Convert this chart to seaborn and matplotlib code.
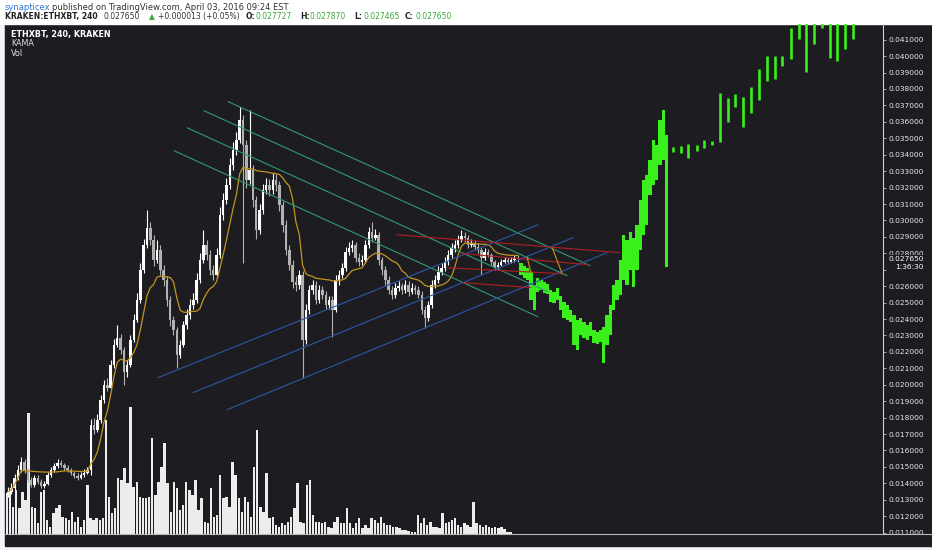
import numpy as np
import pandas as pd
import matplotlib
matplotlib.use('Agg')
import matplotlib.pyplot as plt
from matplotlib.patches import Rectangle
from matplotlib.lines import Line2D
from matplotlib.transforms import blended_transform_factory
import seaborn as sns

# ETHXBT 240 candles (price in BTC)
first_open = 0.01330
closes = [
    0.01349, 0.01373, 0.01434, 0.01483, 0.01532, 0.01483, 0.01422, 0.01392, 0.01434, 0.01410,
    0.01386, 0.01398, 0.01453, 0.01483, 0.01507, 0.01526, 0.01514, 0.01495, 0.01483, 0.01465,
    0.01447, 0.01434, 0.01453, 0.01465, 0.01483, 0.01757, 0.01727, 0.01787, 0.01909, 0.02000,
    0.01982, 0.02122, 0.02244, 0.02286, 0.02213, 0.02080, 0.02122, 0.02274, 0.02396, 0.02518,
    0.02700, 0.02852, 0.02956, 0.02883, 0.02761, 0.02822, 0.02700, 0.02639, 0.02518, 0.02396,
    0.02335, 0.02183, 0.02244, 0.02365, 0.02426, 0.02487, 0.02518, 0.02639, 0.02761, 0.02852,
    0.02791, 0.02700, 0.02670, 0.02791, 0.03035, 0.03126, 0.03218, 0.03339, 0.03431, 0.03491,
    0.03613, 0.03461, 0.03248, 0.03309, 0.03126, 0.02944, 0.03065, 0.03187, 0.03218, 0.03187,
    0.03248, 0.03218, 0.03096, 0.02974, 0.02822, 0.02731, 0.02627, 0.02609, 0.02670, 0.02274,
    0.02457, 0.02578, 0.02609, 0.02518, 0.02578, 0.02548, 0.02487, 0.02518, 0.02457, 0.02639,
    0.02670, 0.02712, 0.02810, 0.02834, 0.02852, 0.02773, 0.02749, 0.02761, 0.02852, 0.02932,
    0.02895, 0.02913, 0.02761, 0.02700, 0.02639, 0.02578, 0.02548, 0.02591, 0.02603, 0.02578,
    0.02609, 0.02566, 0.02591, 0.02578, 0.02548, 0.02457, 0.02408, 0.02487, 0.02609, 0.02639,
    0.02688, 0.02712, 0.02749, 0.02791, 0.02834, 0.02852, 0.02883, 0.02907, 0.02895, 0.02852,
    0.02864, 0.02840, 0.02822, 0.02773, 0.02810, 0.02791, 0.02749, 0.02718, 0.02731, 0.02749,
    0.02761, 0.02749, 0.02761, 0.02773, 0.02765]
highs = [
    0.01380, 0.01400, 0.01455, 0.01510, 0.01562, 0.01545, 0.01495, 0.01440, 0.01450, 0.01450,
    0.01425, 0.01415, 0.01470, 0.01500, 0.01525, 0.01545, 0.01540, 0.01525, 0.01510, 0.01495,
    0.01475, 0.01460, 0.01470, 0.01485, 0.01500, 0.01790, 0.01800, 0.01820, 0.01940, 0.02030,
    0.02040, 0.02150, 0.02280, 0.02365, 0.02310, 0.02230, 0.02150, 0.02300, 0.02430, 0.02560,
    0.02740, 0.02890, 0.03065, 0.02990, 0.02910, 0.02880, 0.02850, 0.02730, 0.02660, 0.02540,
    0.02420, 0.02350, 0.02270, 0.02390, 0.02460, 0.02520, 0.02560, 0.02680, 0.02800, 0.02944,
    0.02880, 0.02820, 0.02730, 0.02830, 0.03080, 0.03170, 0.03260, 0.03380, 0.03480, 0.03540,
    0.03692, 0.03640, 0.03490, 0.03674, 0.03340, 0.03150, 0.03100, 0.03220, 0.03260, 0.03250,
    0.03290, 0.03280, 0.03240, 0.03120, 0.03000, 0.02850, 0.02760, 0.02660, 0.02700, 0.02690,
    0.02490, 0.02610, 0.02640, 0.02630, 0.02610, 0.02600, 0.02570, 0.02540, 0.02540, 0.02670,
    0.02700, 0.02740, 0.02840, 0.02870, 0.02880, 0.02870, 0.02800, 0.02790, 0.02880, 0.02960,
    0.02992, 0.02950, 0.02930, 0.02780, 0.02720, 0.02660, 0.02600, 0.02620, 0.02630, 0.02620,
    0.02640, 0.02630, 0.02620, 0.02610, 0.02600, 0.02570, 0.02480, 0.02510, 0.02640, 0.02670,
    0.02720, 0.02740, 0.02780, 0.02820, 0.02860, 0.02880, 0.02910, 0.02944, 0.02930, 0.02910,
    0.02890, 0.02880, 0.02860, 0.02840, 0.02830, 0.02825, 0.02800, 0.02760, 0.02750, 0.02765,
    0.02780, 0.02775, 0.02780, 0.02787, 0.02787]
lows = [
    0.01315, 0.01335, 0.01360, 0.01420, 0.01470, 0.01465, 0.01405, 0.01375, 0.01380, 0.01395,
    0.01370, 0.01372, 0.01390, 0.01440, 0.01470, 0.01495, 0.01500, 0.01480, 0.01470, 0.01450,
    0.01430, 0.01420, 0.01425, 0.01440, 0.01455, 0.01453, 0.01700, 0.01710, 0.01770, 0.01890,
    0.01960, 0.01970, 0.02100, 0.02230, 0.02190, 0.02000, 0.02050, 0.02110, 0.02260, 0.02380,
    0.02500, 0.02680, 0.02830, 0.02850, 0.02720, 0.02740, 0.02670, 0.02600, 0.02480, 0.02360,
    0.02300, 0.02104, 0.02160, 0.02230, 0.02340, 0.02400, 0.02460, 0.02500, 0.02620, 0.02740,
    0.02760, 0.02670, 0.02640, 0.02650, 0.02770, 0.03000, 0.03100, 0.03190, 0.03310, 0.03400,
    0.03470, 0.02743, 0.03200, 0.03220, 0.03080, 0.02890, 0.02920, 0.03040, 0.03160, 0.03150,
    0.03160, 0.03180, 0.03060, 0.02930, 0.02790, 0.02700, 0.02590, 0.02570, 0.02580, 0.02043,
    0.02250, 0.02430, 0.02550, 0.02490, 0.02500, 0.02520, 0.02460, 0.02460, 0.02292, 0.02440,
    0.02610, 0.02650, 0.02690, 0.02790, 0.02810, 0.02750, 0.02720, 0.02730, 0.02740, 0.02830,
    0.02870, 0.02880, 0.02730, 0.02670, 0.02610, 0.02550, 0.02520, 0.02530, 0.02570, 0.02550,
    0.02560, 0.02540, 0.02550, 0.02555, 0.02525, 0.02430, 0.02347, 0.02390, 0.02470, 0.02590,
    0.02620, 0.02670, 0.02690, 0.02730, 0.02770, 0.02810, 0.02830, 0.02870, 0.02870, 0.02830,
    0.02840, 0.02820, 0.02800, 0.02670, 0.02760, 0.02775, 0.02730, 0.02700, 0.02705, 0.02720,
    0.02740, 0.02735, 0.02740, 0.02750, 0.02747]

# volume pane (relative units)
volume = [
    41, 44, 27, 44, 26, 42, 34, 121, 27, 26,
    11, 42, 44, 14, 7, 21, 26, 29, 17, 16,
    14, 22, 12, 17, 7, 14, 49, 16, 14, 16,
    14, 16, 114, 37, 21, 26, 56, 54, 66, 51,
    127, 47, 52, 37, 36, 36, 37, 96, 39, 52,
    67, 91, 51, 22, 52, 46, 24, 29, 52, 44,
    39, 54, 24, 36, 12, 11, 46, 17, 19, 59,
    36, 37, 27, 72, 59, 36, 22, 37, 32, 17,
    67, 104, 27, 22, 61, 16, 17, 9, 7, 11,
    9, 12, 17, 26, 51, 12, 11, 49, 54, 19,
    12, 12, 11, 12, 7, 6, 12, 17, 11, 11,
    26, 11, 6, 11, 16, 6, 9, 6, 16, 14,
    11, 17, 11, 9, 9, 7, 7, 6, 4, 4,
    3, 2, 2, 19, 11, 16, 9, 12, 7, 7,
    6, 21, 11, 12, 14, 16, 9, 7, 11, 9,
    7, 32, 11, 9, 7, 9, 7, 6, 7, 6,
    7, 5, 2, 2]

# projected bars pattern (green), dense part right after the last candle
proj_hi = [0.02743, 0.02725, 0.02712, 0.02688, 0.02609, 0.02651, 0.02639, 0.02627, 0.02615, 0.02578,
           0.02566, 0.02591, 0.02542, 0.02505, 0.02487, 0.02457, 0.02426, 0.02396, 0.02408, 0.02384,
           0.02365, 0.02384, 0.02335, 0.02323, 0.02335, 0.02353, 0.02426, 0.02487, 0.02609, 0.02639,
           0.02761, 0.02913, 0.02883, 0.02931, 0.02895, 0.02974, 0.03126, 0.03248, 0.03278, 0.03370,
           0.03491, 0.03461, 0.03613, 0.03674, 0.03522]
proj_lo = [0.02670, 0.02651, 0.02639, 0.02518, 0.02457, 0.02566, 0.02578, 0.02560, 0.02554, 0.02505,
           0.02499, 0.02518, 0.02457, 0.02408, 0.02396, 0.02384, 0.02244, 0.02213, 0.02305, 0.02286,
           0.02274, 0.02299, 0.02256, 0.02250, 0.02262, 0.02134, 0.02244, 0.02305, 0.02457, 0.02518,
           0.02548, 0.02639, 0.02609, 0.02700, 0.02597, 0.02700, 0.02822, 0.02913, 0.02974, 0.03157,
           0.03218, 0.03248, 0.03339, 0.03370, 0.02718]
# sparse projected bars (bar index, low, high)
proj2_x = [200.9, 203.3, 205.4, 208.2, 210.3, 212.7, 215.1, 217.5, 219.6, 222.1, 224.5, 226.9,
           229.3, 231.7, 233.8, 236.6, 239.0, 241.1, 243.5, 245.9, 248.3, 250.5, 252.9, 255.3]
proj2_lo = [0.03418, 0.03412, 0.03382, 0.03424, 0.03443, 0.03461, 0.03479, 0.03601, 0.03692, 0.03570,
            0.03656, 0.03735, 0.03850, 0.03863, 0.03942, 0.03984, 0.04106, 0.03905, 0.04076, 0.04173,
            0.03990, 0.03971, 0.04045, 0.04106]
proj2_hi = [0.03449, 0.03455, 0.03467, 0.03461, 0.03491, 0.03485, 0.03777, 0.03747, 0.03771, 0.03753,
            0.03814, 0.03923, 0.04003, 0.04003, 0.04003, 0.04173, 0.04283, 0.04252, 0.04252, 0.04252,
            0.04252, 0.04222, 0.04252, 0.04252]

# drawings: (bar0, price0, bar1, price1)
green_lines = [(66.5, 0.03723, 175.8, 0.02725), (59.2, 0.03668, 168.9, 0.02664),
               (54.1, 0.03564, 163.1, 0.02566), (50.2, 0.03424, 160.1, 0.02414)]
blue_lines = [(45.3, 0.02043, 160.1, 0.02974), (55.9, 0.01952, 170.7, 0.02895),
              (66.2, 0.01848, 181.0, 0.02804)]
red_lines = [(117.5, 0.02913, 184.9, 0.02804), (137.2, 0.02798, 175.2, 0.02731),
             (132.6, 0.02712, 167.4, 0.02676), (137.5, 0.02621, 158.0, 0.02591)]
orange_lines = [(156.8, 0.02779, 158.0, 0.02681), (164.4, 0.02834, 167.4, 0.02676)]

price_ticks = [0.011, 0.012, 0.013, 0.014, 0.015, 0.016, 0.017, 0.018, 0.019, 0.020,
               0.021, 0.022, 0.023, 0.024, 0.025, 0.026, 0.027, 0.028, 0.029, 0.030,
               0.031, 0.032, 0.033, 0.034, 0.035, 0.036, 0.037, 0.038, 0.039, 0.040, 0.041]


def kama(prices, n=10, fast=2, slow=30):
    fsc, ssc = 2 / (fast + 1), 2 / (slow + 1)
    out = [prices[0]]
    for i in range(1, len(prices)):
        k = min(i, n)
        change = abs(prices[i] - prices[i - k])
        vol = sum(abs(prices[j] - prices[j - 1]) for j in range(i - k + 1, i + 1))
        er = change / vol if vol > 0 else 0
        sc = (er * (fsc - ssc) + ssc) ** 2
        out.append(out[-1] + sc * (prices[i] - out[-1]))
    return out


df = pd.DataFrame({'close': closes, 'high': highs, 'low': lows})
df['open'] = [first_open] + closes[:-1]
df['bar'] = np.arange(len(df))
df['kama'] = kama(closes)

sns.set_theme(style='dark')
plt.rcParams['font.family'] = ['DejaVu Sans']

BG = '#1d1d21'
GREEN = '#3af01c'
W, H = 932, 550
fig = plt.figure(figsize=(W / 100, H / 100), dpi=100, facecolor='#f2f4f7')
fig.patches.append(Rectangle((5 / W, 1 - 546 / H), (W - 5) / W, (546 - 24) / H,
                             transform=fig.transFigure, color=BG, zorder=0))
fig.patches.append(Rectangle((0, 1 - 24 / H), 1, 24 / H, transform=fig.transFigure,
                             color='#ffffff', zorder=0))
pos = [5 / W, 1 - 534 / H, 878 / W, 510 / H]

# volume pane
vax = fig.add_axes(pos)
vax.set_zorder(1)
vax.patch.set_visible(False)
vax.bar(np.arange(len(volume)), volume, width=0.78, color='#ececec', linewidth=0)
vax.set_xlim(-0.65, 283.5)
vax.set_ylim(0, 510)
vax.axis('off')

# price pane
ax = fig.add_axes(pos)
ax.set_zorder(2)
ax.patch.set_visible(False)

up = df['close'] >= df['open']
for mask, col in [(up, '#ffffff'), (~up, '#b2b2b2')]:
    d = df[mask]
    ax.vlines(d['bar'], d['low'], d['high'], color=col, lw=0.8, zorder=3)
    body = (d['close'] - d['open']).abs().clip(lower=0.00004)
    ax.bar(d['bar'], body, bottom=d[['open', 'close']].min(axis=1), width=0.75,
           color=col, linewidth=0, zorder=3)

sns.lineplot(data=df, x='bar', y='kama', ax=ax, color='#c3941f', lw=0.9, zorder=4)

for lines, col in [(green_lines, '#2f9a74'), (blue_lines, '#2d56a8'),
                   (red_lines, '#b01d22'), (orange_lines, '#d88a1c')]:
    for x0, p0, x1, p1 in lines:
        ax.plot([x0, x1], [p0, p1], color=col, lw=0.8, zorder=5)

proj_bar = np.arange(len(closes), len(closes) + len(proj_hi))
ax.bar(proj_bar, np.array(proj_hi) - np.array(proj_lo), bottom=proj_lo, width=1.0,
       color=GREEN, linewidth=0, zorder=4)
ax.vlines(proj2_x, proj2_lo, proj2_hi, color=GREEN, lw=1.9, zorder=4)

ax.set_xlim(-0.906, 264.35)
ax.set_ylim(0.010915, 0.041956)
ax.set_xlabel('')
ax.set_ylabel('')
ax.set_xticks([])
ax.yaxis.tick_right()
ax.set_yticks(price_ticks)
# 0.027000 sits under the countdown box, as in the original
ax.set_yticklabels(['' if v == 0.027 else f'{v:.6f}' for v in price_ticks])
ax.tick_params(axis='y', colors='#bdbdbd', labelcolor='#e8e8e8', labelsize=5.4,
               length=2.2, width=0.6, pad=1.5, right=True, left=False)
for s in ['top', 'left', 'bottom']:
    ax.spines[s].set_visible(False)
ax.spines['right'].set_color('#d0d0d0')
ax.spines['right'].set_linewidth(0.8)
ax.grid(False)

# last price label + countdown
tr = blended_transform_factory(ax.transAxes, ax.transData)
ax.text(1 + 5 / 878, closes[-1], f'{closes[-1]:.6f}', transform=tr, fontsize=5.4,
        color='#ffffff', va='center', ha='left', clip_on=False, zorder=10,
        bbox=dict(fc=BG, ec='none', pad=0.8))
ax.annotate('1:36:30', xy=(1 + 12 / 878, closes[-1]), xycoords=tr, xytext=(0, -5.9),
            textcoords='offset points', fontsize=5.4, color='#ffffff', va='center',
            ha='left', annotation_clip=False, zorder=10, bbox=dict(fc=BG, ec='none', pad=0.8))

fig.lines.append(Line2D([5 / W, 1], [1 - 534 / H, 1 - 534 / H], transform=fig.transFigure,
                        color='#b8b8b8', lw=0.8))


def fx(x):
    return x / W


def fy(y):
    return 1 - y / H


# header
fs = 6.0
fs2 = 5.5
fig.text(fx(5), fy(7), 'synapticex', color='#2f78d2', fontsize=fs, va='center')
fig.text(fx(52), fy(7), 'published on TradingView.com, April 03, 2016 09:24 EST',
         color='#333333', fontsize=fs, va='center')
fig.text(fx(5), fy(16.5), 'KRAKEN:ETHXBT, 240', color='#222222', fontsize=fs2,
         fontweight='bold', va='center')
fig.text(fx(104), fy(16.5), '0.027650', color='#333333', fontsize=fs2, va='center')
fig.text(fx(149), fy(16.5), '\u25b2', color='#3aa83a', fontsize=fs2, va='center')
fig.text(fx(158), fy(16.5), '+0.000013 (+0.05%)', color='#333333', fontsize=fs2, va='center')
for lbl, val, x0 in [('O:', '0.027727', 246), ('H:', '0.027870', 300),
                     ('L:', '0.027465', 354), ('C:', '0.027650', 405)]:
    fig.text(fx(x0), fy(16.5), lbl, color='#222222', fontsize=fs2, fontweight='bold',
             va='center')
    fig.text(fx(x0 + 10), fy(16.5), val, color='#3aa83a', fontsize=fs2, va='center')

fig.text(fx(11), fy(34), 'ETHXBT, 240, KRAKEN', color='#ffffff', fontsize=5.8,
         fontweight='bold', va='center')
fig.text(fx(11), fy(43.5), 'KAMA', color='#e0e0e0', fontsize=5.8, va='center')
fig.text(fx(11), fy(53), 'Vol', color='#e0e0e0', fontsize=5.8, va='center')

fig.savefig('out.png', dpi=100, facecolor=fig.get_facecolor())
